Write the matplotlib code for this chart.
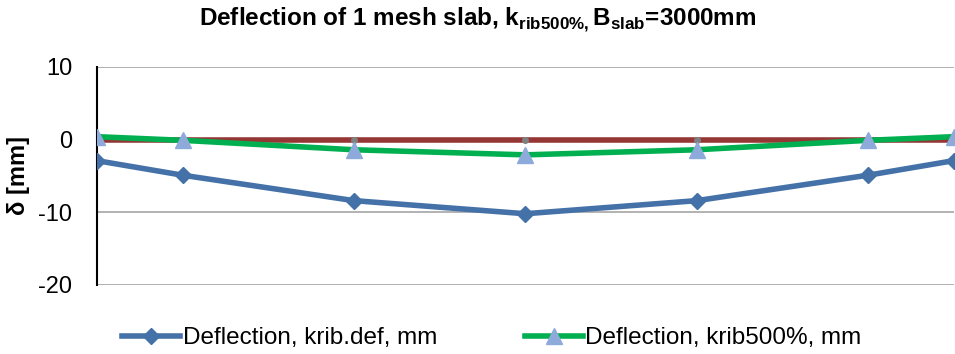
import matplotlib
matplotlib.use("Agg")
import matplotlib.pyplot as plt

# positions along slab width, mm
x_mm = [0, 300, 900, 1500, 2100, 2700, 3000]
defl_def = [-2.9, -4.9, -8.4, -10.2, -8.4, -4.9, -2.9]
defl_500 = [0.4, -0.1, -1.4, -2.1, -1.4, -0.1, 0.4]
defl_ref = [0, 0, 0, 0, 0, 0, 0]

yticks = [-20, -10, 0, 10]

fam = "Liberation Sans"
plt.rcParams['font.family'] = [fam, 'DejaVu Sans']
plt.rcParams['mathtext.fontset'] = 'custom'
plt.rcParams['mathtext.bf'] = fam + ':bold'
plt.rcParams['mathtext.rm'] = fam
plt.rcParams['axes.unicode_minus'] = False

fig = plt.figure(figsize=(9.55, 3.54), dpi=100)
ax = fig.add_axes([0.1016, 0.195, 0.897, 0.616])

ln_ref, = ax.plot(x_mm, defl_ref, color='#943634', linewidth=4, marker='o',
                  markersize=4, markerfacecolor='#808080', markeredgecolor='#808080', zorder=3)
ln_500, = ax.plot(x_mm, defl_500, color='#00b050', linewidth=4, marker='^',
                  markersize=11, markerfacecolor='#8eaadb', markeredgecolor='#8eaadb', zorder=4)
ln_def, = ax.plot(x_mm, defl_def, color='#4471a8', linewidth=4, marker='D',
                  markersize=8, markerfacecolor='#4471a8', markeredgecolor='#4471a8', zorder=4)

ax.set_xlim(0, 3000)
ax.set_ylim(-20, 10)
ax.set_yticks(yticks)
ax.set_xticks([])
ax.yaxis.grid(True, color='#a6a6a6', linewidth=1.2)
ax.set_axisbelow(True)
for s in ['top', 'right', 'bottom']:
    ax.spines[s].set_visible(False)
ax.spines['left'].set_linewidth(1.5)
ax.spines['left'].set_color('black')
ax.tick_params(axis='y', length=0, labelsize=17, pad=18)

ax.set_ylabel('δ [mm]', fontsize=17, fontweight='bold', labelpad=6)

fig.text(0.5, 0.945,
         r'Deflection of 1 mesh slab, k$_{\mathbf{rib500\%,}}$B$_{\mathbf{slab}}$=3000mm',
         ha='center', va='center', fontsize=17.5, fontweight='bold')

fig.legend([ln_def, ln_500], ['Deflection, krib.def, mm', 'Deflection, krib500%, mm'],
           loc='center', bbox_to_anchor=(0.515, 0.045), ncol=2, frameon=False,
           fontsize=17.5, handlelength=2.4, handletextpad=0.1, columnspacing=3.6,
           borderaxespad=0)

fig.savefig('out.png', dpi=100)
